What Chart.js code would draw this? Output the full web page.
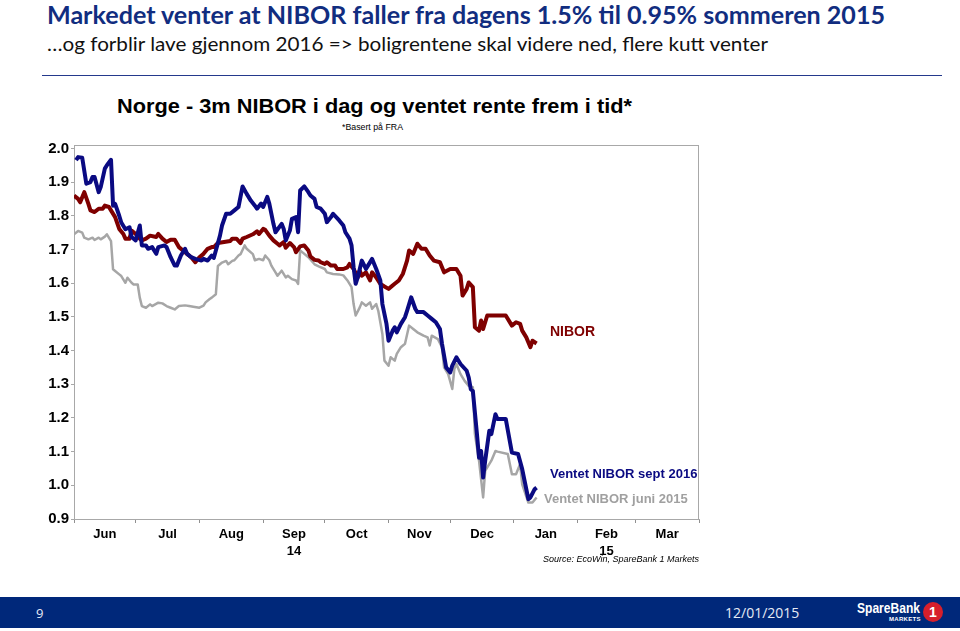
<!DOCTYPE html>
<html lang="no">
<head>
<meta charset="UTF-8">
<title>NIBOR</title>
<script src="https://cdn.jsdelivr.net/npm/chart.js"></script>
<style>
  body { margin: 0; width: 960px; height: 631px; position: relative; overflow: hidden; background: #fff; }
  .fit { position: absolute; white-space: nowrap; transform-origin: 0 0; }
  .tittel { left: 47px; top: 0px; font: bold 24px Lato, sans-serif; color: #112d80; }
  .under { left: 47px; top: 31px; font: 20px Lato, sans-serif; color: #111; }
  .strek { position: absolute; left: 42px; top: 75px; width: 900px; border-top: 1.5px solid #24398c; }
  .graftittel { left: 117px; top: 95px; font: bold 20px "Liberation Sans", Arial, sans-serif; color: #000; }
  .basert { left: 342px; top: 122px; font: 9px "Liberation Sans", Arial, sans-serif; color: #000; }
  .etikett { position: absolute; white-space: nowrap; font: bold 13px "Liberation Sans", Arial, sans-serif; }
  .kilde { position: absolute; right: 261px; top: 554px; font: italic 9px "Liberation Sans", Arial, sans-serif; }
  #chartNibor { position: absolute; left: 0; top: 140px; }
  .bunn { position: absolute; left: 0; top: 597px; width: 960px; height: 31px; background: #00287a; color: #e6ebf5; }
  .bunn span { position: absolute; white-space: nowrap; }
  .logo { left: 857px; top: 2px; font: bold 15px "Liberation Sans", Arial, sans-serif; color: #fff; }
</style>
</head>
<body>
  <div class="fit tittel" data-w="838">Markedet venter at NIBOR faller fra dagens 1.5% til 0.95% sommeren 2015</div>
  <div class="fit under" data-w="721">…og forblir lave gjennom 2016 =&gt; boligrentene skal videre ned, flere kutt venter</div>
  <div class="strek"></div>
  <div class="fit graftittel" data-w="515">Norge - 3m NIBOR i dag og ventet rente frem i tid*</div>
  <div class="fit basert" data-w="61">*Basert på FRA</div>

  <canvas id="chartNibor" width="720" height="440"></canvas>

  <div class="etikett" style="left:550px; top:323px; font-size:14px; color:#7f0000;">NIBOR</div>
  <div class="etikett" style="left:550px; top:466px; color:#0a0a82;">Ventet NIBOR sept 2016</div>
  <div class="etikett" style="left:544px; top:491px; color:#a0a0a0;">Ventet NIBOR juni 2015</div>
  <div class="kilde">Source: EcoWin, SpareBank 1 Markets</div>

  <div class="bunn">
    <span style="left:36px; top:7px; font: 13px 'Open Sans', sans-serif;">9</span>
    <span style="left:725px; top:6px; font: 14px 'Open Sans', sans-serif;">12/01/2015</span>
    <span class="fit logo" data-w="63">SpareBank</span>
    <span style="left:889px; top:19px; font: bold 6px 'Liberation Sans', Arial, sans-serif; color:#fff; letter-spacing:0.3px;">MARKETS</span>
    <span style="left:923px; top:5px; width:20px; height:20px; border-radius:50%; background:#d61f2b; color:#fff; font: bold 14px 'Liberation Sans', Arial, sans-serif; text-align:center; line-height:20px;">1</span>
  </div>

<script>
  // dager siden 1. juni 2014
  const monthStarts = [0, 30, 61, 92, 122, 153, 183, 214, 245, 273, 304];
  const monthLabels = ['Jun', 'Jul', 'Aug', ['Sep', '14'], 'Oct', 'Nov', 'Dec', 'Jan', ['Feb', '15'], 'Mar'];
  const yTicks = [0.9, 1.0, 1.1, 1.2, 1.3, 1.4, 1.5, 1.6, 1.7, 1.8, 1.9, 2.0];

  // [dag, rente]
  const ventetSept2016 = [
    [1, 1.965], [2, 1.974], [4, 1.972], [6, 1.895], [8, 1.90], [9, 1.915], [10, 1.915], [12, 1.87], [13, 1.885],
    [15, 1.94], [16, 1.95], [18, 1.966], [19, 1.83], [20, 1.835], [22, 1.80], [23, 1.78], [25, 1.76], [27, 1.766],
    [28, 1.737], [30, 1.727], [32, 1.771], [33, 1.712], [35, 1.712], [36, 1.702], [38, 1.707], [40, 1.687],
    [41, 1.707], [44, 1.712], [45, 1.707], [47, 1.677], [49, 1.652], [50, 1.652], [52, 1.682], [54, 1.702],
    [55, 1.687], [57, 1.677], [59, 1.672], [62, 1.667], [63, 1.672], [65, 1.667], [67, 1.682], [68, 1.675],
    [69, 1.697], [71, 1.741], [72, 1.771], [74, 1.806], [76, 1.806], [78, 1.816], [80, 1.826], [82, 1.887],
    [84, 1.865], [86, 1.845], [88, 1.830], [89, 1.821], [91, 1.836], [92, 1.826], [94, 1.856], [95, 1.836],
    [97, 1.776], [98, 1.751], [101, 1.776], [102, 1.761], [103, 1.727], [105, 1.756], [106, 1.791], [108, 1.796],
    [109, 1.751], [110, 1.875], [112, 1.887], [114, 1.870], [115, 1.860], [117, 1.850], [118, 1.826], [120, 1.821],
    [122, 1.806], [123, 1.781], [125, 1.796], [126, 1.806], [129, 1.786], [131, 1.771], [132, 1.751], [134, 1.732],
    [135, 1.712], [136, 1.647], [137, 1.598], [138, 1.617], [140, 1.667], [142, 1.642], [143, 1.652], [145, 1.672],
    [147, 1.642], [149, 1.608], [150, 1.538], [152, 1.479], [153, 1.429], [155, 1.459], [156, 1.469], [157, 1.454],
    [159, 1.479], [161, 1.499], [162, 1.518], [164, 1.558], [166, 1.524], [167, 1.514], [170, 1.514], [172, 1.504],
    [174, 1.494], [176, 1.484], [178, 1.464], [179, 1.420], [181, 1.350], [183, 1.335], [184, 1.355], [186, 1.380],
    [188, 1.360], [191, 1.340], [192, 1.320], [193, 1.285], [194, 1.280], [196, 1.152], [197, 1.082], [198, 1.102],
    [199, 1.023], [200, 1.073], [202, 1.162], [203, 1.152], [205, 1.211], [206, 1.197], [210, 1.197], [213, 1.097],
    [216, 1.093], [218, 1.048], [219, 1.018], [221, 0.959], [222, 0.964], [224, 0.988], [225, 0.993]
  ];

  const nibor3m = [
    [0, 1.86], [2, 1.85], [3, 1.84], [5, 1.87], [7, 1.835], [8, 1.816], [10, 1.811], [12, 1.821], [14, 1.821],
    [15, 1.83], [17, 1.826], [18, 1.816], [20, 1.796], [22, 1.761], [24, 1.746], [25, 1.732], [27, 1.732],
    [28, 1.756], [30, 1.746], [32, 1.732], [33, 1.727], [35, 1.732], [37, 1.741], [40, 1.737], [41, 1.746],
    [43, 1.732], [45, 1.722], [47, 1.729], [49, 1.729], [51, 1.707], [53, 1.697], [55, 1.687], [57, 1.677],
    [59, 1.662], [61, 1.677], [63, 1.687], [65, 1.702], [67, 1.707], [68, 1.707], [70, 1.719], [73, 1.722],
    [76, 1.725], [77, 1.732], [79, 1.732], [81, 1.719], [82, 1.732], [84, 1.737], [87, 1.745], [89, 1.754],
    [90, 1.746], [92, 1.761], [93, 1.758], [95, 1.741], [97, 1.727], [99, 1.717], [100, 1.712], [102, 1.722],
    [103, 1.705], [105, 1.719], [107, 1.707], [108, 1.692], [110, 1.709], [112, 1.712], [114, 1.697], [115, 1.679],
    [117, 1.669], [119, 1.667], [120, 1.662], [122, 1.657], [123, 1.662], [125, 1.652], [127, 1.652], [128, 1.642],
    [131, 1.642], [133, 1.647], [134, 1.657], [136, 1.642], [138, 1.617], [139, 1.637], [140, 1.622], [142, 1.632],
    [144, 1.608], [145, 1.632], [147, 1.617], [149, 1.598], [151, 1.590], [153, 1.583], [156, 1.598], [158, 1.608],
    [160, 1.628], [162, 1.667], [163, 1.697], [165, 1.687], [167, 1.717], [169, 1.702], [171, 1.702], [173, 1.682],
    [175, 1.667], [178, 1.662], [180, 1.632], [183, 1.642], [186, 1.642], [188, 1.622], [189, 1.563], [191, 1.583],
    [192, 1.602], [194, 1.588], [195, 1.469], [197, 1.459], [198, 1.489], [199, 1.464], [201, 1.504], [210, 1.504],
    [213, 1.474], [215, 1.484], [217, 1.479], [218, 1.459], [220, 1.439], [222, 1.410], [223, 1.429], [225, 1.421]
  ];

  const ventetJuni2015 = [
    [0, 1.745], [2, 1.755], [4, 1.75], [5, 1.735], [7, 1.73], [9, 1.735], [10, 1.728], [12, 1.735], [13, 1.73],
    [15, 1.738], [16, 1.745], [18, 1.725], [19, 1.641], [20, 1.636], [22, 1.626], [23, 1.621], [25, 1.601],
    [26, 1.616], [28, 1.601], [29, 1.596], [31, 1.596], [32, 1.557], [33, 1.532], [35, 1.527], [37, 1.537],
    [38, 1.532], [41, 1.542], [43, 1.54], [45, 1.532], [47, 1.527], [49, 1.522], [51, 1.532], [54, 1.534],
    [56, 1.532], [58, 1.53], [61, 1.527], [63, 1.533], [64, 1.543], [66, 1.553], [67, 1.557], [69, 1.567],
    [70, 1.651], [72, 1.661], [74, 1.666], [75, 1.656], [77, 1.666], [78, 1.668], [80, 1.682], [81, 1.686],
    [83, 1.712], [84, 1.702], [87, 1.686], [88, 1.668], [90, 1.672], [92, 1.668], [93, 1.682], [95, 1.668],
    [96, 1.652], [98, 1.632], [99, 1.622], [101, 1.637], [103, 1.617], [104, 1.622], [106, 1.612], [108, 1.608],
    [109, 1.598], [110, 1.697], [111, 1.692], [113, 1.682], [114, 1.677], [117, 1.656], [119, 1.65], [122, 1.642],
    [123, 1.632], [126, 1.627], [129, 1.626], [131, 1.623], [133, 1.608], [135, 1.588], [136, 1.538], [137, 1.504],
    [139, 1.528], [140, 1.543], [142, 1.533], [144, 1.543], [145, 1.524], [147, 1.538], [148, 1.518], [150, 1.449],
    [151, 1.37], [153, 1.355], [154, 1.38], [156, 1.37], [157, 1.39], [159, 1.41], [161, 1.42], [163, 1.474],
    [165, 1.464], [167, 1.454], [170, 1.444], [172, 1.439], [173, 1.415], [174, 1.444], [177, 1.434], [179, 1.41],
    [180, 1.35], [182, 1.33], [184, 1.286], [185, 1.345], [186, 1.36], [188, 1.33], [190, 1.31], [192, 1.295],
    [194, 1.291], [195, 1.152], [197, 1.073], [199, 0.964], [200, 1.043], [203, 1.073], [205, 1.102], [206, 1.1],
    [211, 1.093], [213, 1.033], [215, 1.033], [217, 1.063], [218, 1.003], [221, 0.949], [223, 0.949], [225, 0.964]
  ];

  // strekk tekstene til bredden i originalen
  document.querySelectorAll('.fit').forEach(function (el) {
    var w = el.getBoundingClientRect().width;
    el.style.transform = 'scaleX(' + (el.dataset.w / w) + ')';
  });

  // x-ticks: månedsstart (tick-strek, ingen tekst) og midt i måneden (tekst)
  var xTickValues = [];
  var xTickLabels = [];
  for (var i = 0; i < monthLabels.length; i++) {
    xTickValues.push(monthStarts[i]);
    xTickLabels.push('');
    xTickValues.push((monthStarts[i] + monthStarts[i + 1]) / 2);
    xTickLabels.push(monthLabels[i]);
  }
  xTickValues.push(monthStarts[monthStarts.length - 1]);
  xTickLabels.push('');

  function tilPunkter(rader) {
    return rader.map(function (r) { return { x: r[0], y: r[1] }; });
  }

  const boks = {
    id: 'boks',
    beforeDatasetsDraw: function (chart) {
      const a = chart.chartArea;
      const ctx = chart.ctx;
      ctx.save();
      ctx.strokeStyle = '#a8a8a8';
      ctx.lineWidth = 1;
      ctx.strokeRect(a.left + 0.5, a.top + 0.5, a.right - a.left - 1, a.bottom - a.top);
      ctx.restore();
    }
  };

  const akseFont = { family: '"Liberation Sans", Arial, sans-serif', weight: 'bold' };

  new Chart(document.getElementById('chartNibor'), {
    type: 'line',
    data: {
      datasets: [{
        label: 'Ventet NIBOR sept 2016',
        data: tilPunkter(ventetSept2016),
        borderColor: '#0a0a82',
        borderWidth: 4
      }, {
        label: 'NIBOR',
        data: tilPunkter(nibor3m),
        borderColor: '#7f0000',
        borderWidth: 4
      }, {
        label: 'Ventet NIBOR juni 2015',
        data: tilPunkter(ventetJuni2015),
        borderColor: '#a6a6a6',
        borderWidth: 2.5
      }]
    },
    options: {
      responsive: false,
      animation: false,
      layout: { padding: { top: 5, right: 21, left: 0, bottom: 0 } },
      elements: { point: { radius: 0 }, line: { tension: 0, borderJoinStyle: 'round' } },
      plugins: { legend: { display: false }, tooltip: { enabled: false } },
      scales: {
        x: {
          type: 'linear',
          min: monthStarts[0],
          max: monthStarts[monthStarts.length - 1],
          afterBuildTicks: function (scale) {
            scale.ticks = xTickValues.map(function (v) { return { value: v }; });
          },
          afterFit: function (scale) {
            scale.height = 61;
            scale.paddingLeft = 0;
            scale.paddingRight = 0;
          },
          border: { color: '#a8a8a8' },
          grid: {
            drawOnChartArea: false,
            tickLength: 4,
            tickColor: function (ctx) { return xTickLabels[ctx.index] === '' ? '#909090' : 'rgba(0,0,0,0)'; }
          },
          ticks: {
            autoSkip: false,
            maxRotation: 0,
            padding: 3,
            color: '#000',
            font: Object.assign({ size: 13, lineHeight: 1.3 }, akseFont),
            callback: function (value, index) { return xTickLabels[index]; }
          }
        },
        y: {
          min: 0.9,
          max: 2.01,
          afterBuildTicks: function (scale) {
            scale.ticks = yTicks.map(function (v) { return { value: v }; });
          },
          afterFit: function (scale) {
            scale.width = 74;
            scale.paddingTop = 0;
            scale.paddingBottom = 0;
          },
          border: { color: '#a8a8a8' },
          grid: { drawOnChartArea: false, tickLength: 3, tickColor: '#a8a8a8' },
          ticks: {
            padding: 2,
            color: '#000',
            font: Object.assign({ size: 15 }, akseFont),
            callback: function (value) { return value.toFixed(1); }
          }
        }
      }
    },
    plugins: [boks]
  });
</script>
</body>
</html>
